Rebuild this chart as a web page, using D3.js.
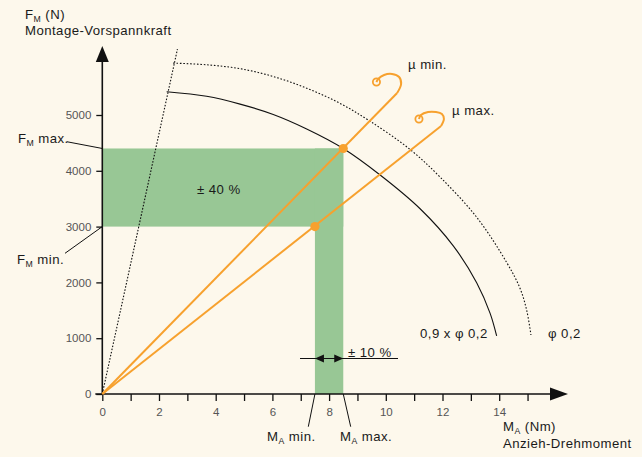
<!DOCTYPE html>
<html>
<head>
<meta charset="utf-8">
<script src="https://cdn.jsdelivr.net/npm/d3@7"></script>
<style>
  html, body { margin: 0; padding: 0; background: #fdf8ec; }
  svg { display: block; }
  text { font-family: "Liberation Sans", Arial, sans-serif; }
</style>
</head>
<body>
<svg id="chart" width="642" height="457"></svg>
<script>
// ---- data ----
const xTickValues = [0,1,2,3,4,5,6,7,8,9,10,11,12,13,14,15];
const xTickLabels = [0,2,4,6,8,10,12,14];
const yTickValues = [0,1000,2000,3000,4000,5000];

// tightening torque range and resulting preload range
const torqueMin = 7.5, torqueMax = 8.5;
const preloadMin = 3000, preloadMax = 4400;

// preload vs torque for the two friction limits
const muMinPoint = [8.5, 4400];
const muMaxPoint = [7.5, 3000];
const muMinEnd = [10.40, 5394];
const muMaxEnd = [11.95, 4803];
// curl at the end of each friction line
const muMinCurl = [[10.40,5394],[10.54,5556],[10.47,5681],[10.22,5735],[9.94,5717],[9.73,5645],[9.67,5591]];
const muMaxCurl = [[11.95,4803],[12.05,4928],[11.98,5018],[11.77,5054],[11.49,5054],[11.24,5000],[11.17,4928]];

// yield limit (dotted) and 90 % of yield limit (solid)
const phiCurve = [[2.50,5930],[3.68,5900],[4.86,5830],[6.03,5690],[7.21,5480],[8.38,5210],[9.44,4890],[10.85,4385],[11.91,3890],[13.21,3165],[14.26,2360],[14.73,1900],[14.97,1500],[15.12,1057]];
const phi09Curve = [[2.27,5418],[3.68,5335],[4.86,5195],[6.03,5010],[7.21,4750],[8.5,4400],[9.80,3925],[11.21,3320],[12.38,2655],[13.21,1990],[13.68,1445],[13.91,1040]];
// frictionless limit line
const frictionlessLine = [[0,0],[2.65,6180]];

// ---- layout ----
const svg = d3.select("#chart");
const x = d3.scaleLinear().domain([0, 15]).range([102.3, 527.55]);
const y = d3.scaleLinear().domain([0, 5000]).range([394, 115]);

const GREEN = "#98c795";
const ORANGE = "#f7a12e";
const INK = "#111";
const GREY = "#555";
const FONT = "'Liberation Sans', Arial, sans-serif";

// green bands
svg.append("rect")
  .attr("x", x(0)).attr("y", y(preloadMax))
  .attr("width", x(torqueMax) - x(0)).attr("height", y(preloadMin) - y(preloadMax))
  .attr("fill", GREEN);
svg.append("rect")
  .attr("x", x(torqueMin)).attr("y", y(preloadMax))
  .attr("width", x(torqueMax) - x(torqueMin)).attr("height", y(0) - y(preloadMax))
  .attr("fill", GREEN);

// axes
const xAxis = d3.axisBottom(x).tickValues(xTickValues).tickSize(7)
  .tickFormat(d => xTickLabels.includes(d) ? String(d) : "");
const gx = svg.append("g").attr("transform", `translate(0,${y(0)})`).call(xAxis);
gx.select(".domain").remove();
gx.selectAll(".tick line").attr("stroke", INK).attr("stroke-width", 1.3);
gx.selectAll(".tick text").attr("fill", GREY).attr("font-size", 11.5).attr("dy", "1.05em")
  .attr("font-family", FONT);

const yAxis = d3.axisLeft(y).tickValues(yTickValues).tickSize(6).tickPadding(5)
  .tickFormat(d => String(d));
const gy = svg.append("g").attr("transform", `translate(${x(0)},0)`).call(yAxis);
gy.select(".domain").remove();
gy.selectAll(".tick line").attr("stroke", INK).attr("stroke-width", 1.3);
gy.selectAll(".tick text").attr("fill", GREY).attr("font-size", 11.5)
  .attr("font-family", FONT);

// axis lines with arrow heads
svg.append("line").attr("x1", x(0) - 7).attr("x2", 552).attr("y1", y(0)).attr("y2", y(0))
  .attr("stroke", INK).attr("stroke-width", 1.6);
svg.append("path").attr("d", `M550,${y(0) - 6.5}L568,${y(0)}L550,${y(0) + 6.5}Z`).attr("fill", INK);
svg.append("line").attr("x1", x(0)).attr("x2", x(0)).attr("y1", y(0)).attr("y2", 60)
  .attr("stroke", INK).attr("stroke-width", 1.6);
svg.append("path").attr("d", `M${x(0) - 6.5},62L${x(0)},46L${x(0) + 6.5},62Z`).attr("fill", INK);

// curves
const line = d3.line().x(d => x(d[0])).y(d => y(d[1]));
const smooth = d3.line().x(d => x(d[0])).y(d => y(d[1])).curve(d3.curveCatmullRom.alpha(0.5));

svg.append("path").datum(frictionlessLine).attr("d", line)
  .attr("fill", "none").attr("stroke", INK).attr("stroke-width", 1.1).attr("stroke-dasharray", "1.6,1.6");
svg.append("path").datum(phiCurve).attr("d", smooth)
  .attr("fill", "none").attr("stroke", INK).attr("stroke-width", 1.1).attr("stroke-dasharray", "1.6,1.8");
svg.append("path").datum(phi09Curve).attr("d", smooth)
  .attr("fill", "none").attr("stroke", INK).attr("stroke-width", 1.1);

// friction lines
[[muMinEnd, muMinCurl], [muMaxEnd, muMaxCurl]].forEach(([end, curl]) => {
  svg.append("path").datum([[0, 0], end]).attr("d", line)
    .attr("fill", "none").attr("stroke", ORANGE).attr("stroke-width", 2);
  svg.append("path").datum(curl).attr("d", smooth)
    .attr("fill", "none").attr("stroke", ORANGE).attr("stroke-width", 2);
  const c = curl[curl.length - 1];
  svg.append("circle").attr("cx", x(c[0])).attr("cy", y(c[1])).attr("r", 3.6)
    .attr("fill", "none").attr("stroke", ORANGE).attr("stroke-width", 1.8);
});
[muMinPoint, muMaxPoint].forEach(p => {
  svg.append("circle").attr("cx", x(p[0])).attr("cy", y(p[1])).attr("r", 4.6).attr("fill", ORANGE);
});

// ±10 % dimension
const dimY = 358.5;
svg.append("line").attr("x1", 300).attr("x2", 398).attr("y1", dimY).attr("y2", dimY)
  .attr("stroke", INK).attr("stroke-width", 1.2);
svg.append("path").attr("d", `M${x(torqueMin)},${dimY}L${x(torqueMin) + 9},${dimY - 4}L${x(torqueMin) + 9},${dimY + 4}Z`).attr("fill", INK);
svg.append("path").attr("d", `M${x(torqueMax)},${dimY}L${x(torqueMax) - 9},${dimY - 4}L${x(torqueMax) - 9},${dimY + 4}Z`).attr("fill", INK);

// leader lines
const leaders = [
  [66.7, 141.7, x(0), y(preloadMax)],
  [65, 253.3, x(0), y(preloadMin)],
  [x(torqueMin), y(0), 308.3, 426.7],
  [x(torqueMax), y(0), 350.7, 426.7]
];
leaders.forEach(([x1, y1, x2, y2]) => {
  svg.append("line").attr("x1", x1).attr("y1", y1).attr("x2", x2).attr("y2", y2)
    .attr("stroke", INK).attr("stroke-width", 1);
});

// labels; {sub: "..."} parts are set as subscripts
function label(px, py, parts, anchor) {
  const size = 13.2;
  const t = svg.append("text").attr("x", px).attr("y", py)
    .attr("font-size", size).attr("fill", "#1a1a1a")
    .attr("letter-spacing", 0.45)
    .attr("text-anchor", anchor || "start");
  let shifted = false;
  parts.forEach(p => {
    if (typeof p === "string") {
      const s = t.append("tspan").text(p);
      if (shifted) { s.attr("dy", -3); shifted = false; }
    } else {
      t.append("tspan").attr("font-size", size * 0.66).attr("dy", 3).text(p.sub);
      shifted = true;
    }
  });
  return t;
}
label(25, 19, ["F", {sub: "M"}, " (N)"]);
label(25, 35, ["Montage-Vorspannkraft"]);
label(503, 431, ["M", {sub: "A"}, " (Nm)"]);
label(503, 448, ["Anzieh-Drehmoment"]);
label(18, 143, ["F", {sub: "M"}, " max."]);
label(17, 264, ["F", {sub: "M"}, " min."]);
label(267, 441, ["M", {sub: "A"}, " min."]);
label(340, 441, ["M", {sub: "A"}, " max."]);
label(408, 69, ["\u00b5 min."]);
label(452, 115, ["\u00b5 max."]);
label(197, 194, ["\u00b1 40 %"]);
label(348, 357, ["\u00b1 10 %"]);
label(420, 338, ["0,9 x \u03c6 0,2"]);
label(548, 338, ["\u03c6 0,2"]);
</script>
</body>
</html>
